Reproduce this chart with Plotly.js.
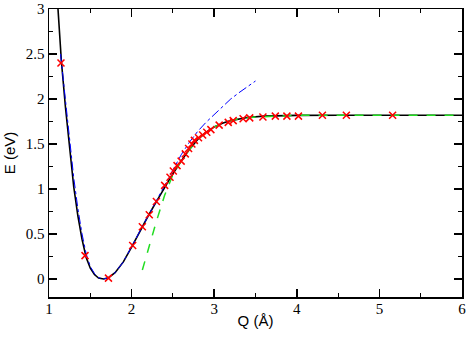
<!DOCTYPE html>
<html>
<head>
<meta charset="utf-8">
<script src="https://cdn.plot.ly/plotly-3.0.1.min.js"></script>
<style>
  html, body { margin: 0; padding: 0; background: #fff; }
  #plot { width: 469px; height: 339px; }
</style>
</head>
<body>
<div id="plot"></div>
<script>
// computed points (red crosses)
let qPts = [1.145, 1.436, 1.72, 2.013, 2.13, 2.214, 2.30, 2.40, 2.465, 2.505, 2.55, 2.60, 2.65, 2.69, 2.73, 2.76, 2.81, 2.86, 2.91, 2.96, 3.06, 3.17, 3.23, 3.35, 3.43, 3.59, 3.74, 3.88, 4.02, 4.31, 4.60, 5.16];
let ePts = [2.40, 0.26, 0.01, 0.373, 0.58, 0.714, 0.862, 1.04, 1.13, 1.20, 1.26, 1.31, 1.39, 1.45, 1.50, 1.54, 1.57, 1.60, 1.63, 1.66, 1.71, 1.74, 1.76, 1.78, 1.79, 1.80, 1.81, 1.81, 1.81, 1.82, 1.82, 1.82];

// black solid fit
let qFit = [1.109, 1.13, 1.15, 1.2, 1.25, 1.3, 1.35, 1.4, 1.45, 1.5, 1.55, 1.6, 1.66, 1.72, 1.8, 1.9, 2.0, 2.1, 2.2, 2.3, 2.4, 2.5, 2.6, 2.7, 2.8, 2.9, 3.0, 3.1, 3.2, 3.3, 3.4, 3.6, 3.8, 4.0, 4.5, 5.0, 6.0];
let eFit = [3.0, 2.68, 2.42, 1.90, 1.43, 1.02, 0.70, 0.44, 0.24, 0.12, 0.05, 0.01, 0.0, 0.015, 0.07, 0.19, 0.355, 0.53, 0.70, 0.86, 1.02, 1.17, 1.31, 1.44, 1.55, 1.63, 1.69, 1.73, 1.76, 1.78, 1.795, 1.81, 1.815, 1.818, 1.82, 1.82, 1.82];

// blue dash-dot fit
let qHarm = [1.14, 1.2, 1.25, 1.3, 1.35, 1.4, 1.45, 1.5, 1.55, 1.6, 1.66, 1.72, 1.8, 1.9, 2.0, 2.1, 2.2, 2.3, 2.4, 2.5, 2.6, 2.7, 2.8, 2.9, 3.0, 3.1, 3.2, 3.3, 3.4, 3.5];
let eHarm = [2.5, 1.97, 1.52, 1.12, 0.78, 0.50, 0.28, 0.14, 0.06, 0.015, 0.0, 0.015, 0.07, 0.19, 0.36, 0.53, 0.71, 0.88, 1.05, 1.22, 1.38, 1.52, 1.64, 1.74, 1.83, 1.92, 2.00, 2.07, 2.14, 2.20];

// green dashed fit
let qLong = [2.13, 2.2, 2.3, 2.4, 2.5, 2.6, 2.7, 2.8, 2.9, 3.0, 3.1, 3.2, 3.3, 3.5, 3.8, 4.0, 5.0, 6.0];
let eLong = [0.10, 0.33, 0.64, 0.93, 1.16, 1.31, 1.44, 1.55, 1.63, 1.69, 1.73, 1.76, 1.78, 1.80, 1.815, 1.818, 1.82, 1.82];

let black = { x: qFit, y: eFit, mode: 'lines', line: {color: '#000000', width: 1.6} };
let blue = { x: qHarm, y: eHarm, mode: 'lines', line: {color: '#0000ff', width: 1, dash: 'dashdot'} };
let green = { x: qLong, y: eLong, mode: 'lines', line: {color: '#22dd22', width: 1.5, dash: 'dash'} };
let pts = { x: qPts, y: ePts, mode: 'markers',
  marker: {symbol: 'x-thin', size: 7, line: {color: '#ff0000', width: 1.5}} };

let serif = 'Liberation Serif';
let sans = 'Liberation Sans';

let layout = {
  width: 469, height: 339,
  margin: {l: 49, r: 7, t: 9, b: 42},
  paper_bgcolor: '#fff', plot_bgcolor: '#fff',
  font: {family: serif, size: 15, color: '#000'},
  showlegend: false,
  xaxis: {
    showline: true, linecolor: '#000', linewidth: 1.5, mirror: 'ticks',
    ticks: 'inside', ticklen: 8, tickwidth: 1.5, tickcolor: '#000',
    showgrid: false, zeroline: false,
    tickfont: {family: serif, size: 15, color: '#000'},
    range: [1, 6], dtick: 1, ticklabelstandoff: -3,
    minor: {dtick: 0.5, ticks: 'inside', ticklen: 4, tickwidth: 1, tickcolor: '#000'},
    title: {text: 'Q (Å)', standoff: 0, font: {family: sans, size: 15, color: '#000'}}
  },
  yaxis: {
    showline: true, linecolor: '#000', linewidth: 1.5, mirror: 'ticks',
    ticks: 'inside', ticklen: 8, tickwidth: 1.5, tickcolor: '#000',
    showgrid: false, zeroline: false,
    tickfont: {family: serif, size: 15, color: '#000'},
    range: [-0.2, 3], tick0: 0, dtick: 0.5,
    minor: {dtick: 0.25, ticks: 'inside', ticklen: 4, tickwidth: 1, tickcolor: '#000'},
    title: {text: 'E (eV)', standoff: 6, font: {family: sans, size: 15, color: '#000'}}
  }
};

Plotly.newPlot('plot', [black, blue, green, pts], layout, {displayModeBar: false, staticPlot: true});
</script>
</body>
</html>
